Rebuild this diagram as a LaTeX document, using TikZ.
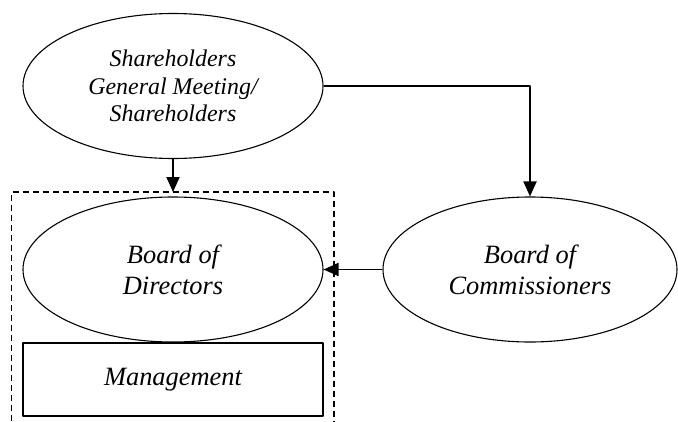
\documentclass[tikz,border=0pt]{standalone}
\usepackage{fontspec}
\setmainfont{Liberation Serif}
\usetikzlibrary{shapes.geometric,arrows.meta}
\begin{document}
\begin{tikzpicture}[x=1bp, y=1bp, line join=round, >={Triangle[length=15bp,width=13bp]},
  font=\itshape,
  oval/.style={draw, ellipse, line width=1.1bp, align=center, inner sep=0pt, minimum height=145bp},
  box/.style={draw, rectangle, line width=1.2bp, minimum width=300bp, minimum height=73bp},
  link/.style={->, line width=1.9bp}]
\useasboundingbox (0,0) rectangle (678,421);
\node[oval, minimum width=300bp, font=\itshape\fontsize{24}{27.5}\selectfont] (gms) at (173,335) {Shareholders\\General Meeting/\\Shareholders};
\node[oval, minimum width=300bp, font=\itshape\fontsize{26.5}{31}\selectfont] (bod) at (173,151.5) {Board of\\Directors};
\node[oval, minimum width=294bp, font=\itshape\fontsize{26.5}{31}\selectfont] (boc) at (530,151.5) {Board of\\Commissioners};
\node[box, font=\itshape\fontsize{26.5}{32}\selectfont] (mgt) at (173,41.5) {Management};
%dashed group
\coordinate (gtl) at (11.7,229);
\coordinate (gtr) at (334,229);
\draw[line width=1.2bp, dash pattern=on 6bp off 4bp] (11.7,0) -- (gtl) -- (gtr) -- (334,0);
\draw[link] (gms.south) -- (gms.south |- gtl);
\draw[link] (gms.east) -| (boc.north);
\draw[link] (boc.west) -- (bod.east);
\end{tikzpicture}
\end{document}
